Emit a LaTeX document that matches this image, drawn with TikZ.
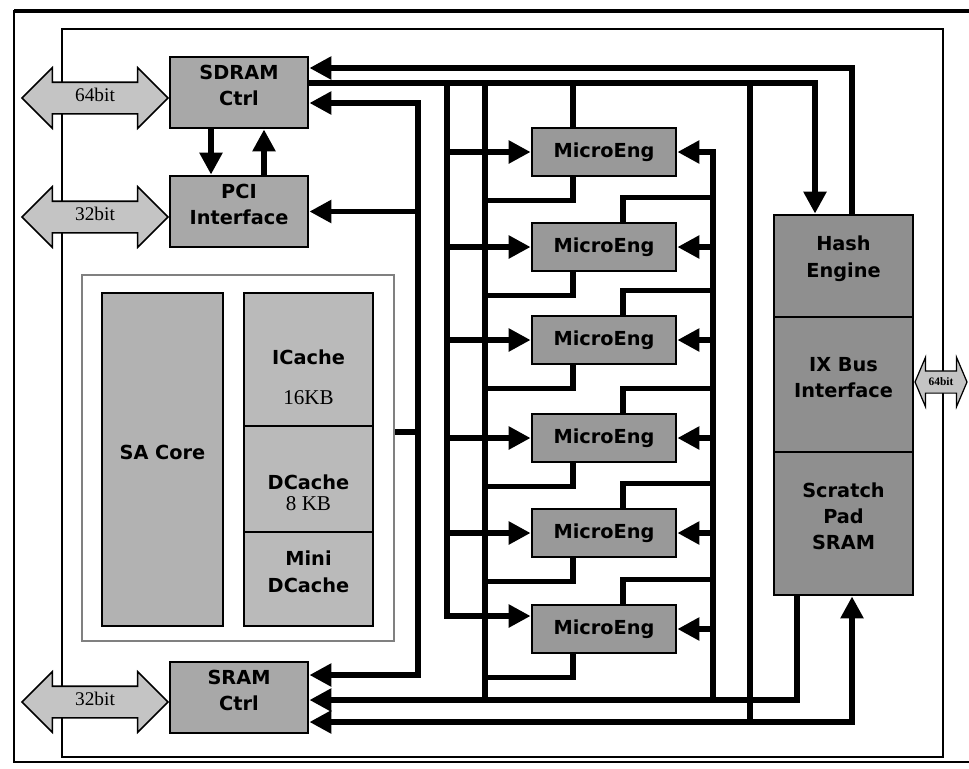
\documentclass[tikz,border=0pt]{standalone}
\usepackage{fontspec}
\newfontfamily\blkfont{DejaVu Sans}
\newfontfamily\busfont{Liberation Serif}
\usetikzlibrary{arrows.meta,shapes.arrows,fit}

\definecolor{ctrlgray}{gray}{0.66}
\definecolor{megray}{gray}{0.6}
\definecolor{hashgray}{gray}{0.56}
\definecolor{coregray}{gray}{0.7}
\definecolor{cachegray}{gray}{0.73}
\definecolor{busgray}{gray}{0.77}

\newcommand{\kbfont}{\busfont\mdseries\fontsize{12}{14}\selectfont}

\begin{document}
\begin{tikzpicture}[x=0.02cm, y=-0.02cm,
    >={Triangle[length=4.4mm,width=4.4mm]},
    wire/.style={line width=3.2pt},
    blk/.style={draw, line width=1.6pt, inner sep=0pt, align=center,
        font=\blkfont\bfseries\fontsize{11}{15}\selectfont},
    lbl/.style={align=center, font=\blkfont\bfseries\fontsize{11}{15}\selectfont},
    bigbus/.style={double arrow, draw, line width=0.9pt, fill=busgray,
        double arrow head extend=0.29cm, double arrow tip angle=90,
        minimum height=2.92cm, inner xsep=0pt, inner ysep=0.17cm,
        text height=0.2cm, text depth=0.06cm,
        font=\busfont\fontsize{11}{11}\selectfont},
    smallbus/.style={double arrow, draw, line width=0.7pt, fill=busgray,
        double arrow head extend=0.27cm, double arrow tip angle=134,
        minimum height=1.04cm, inner xsep=0pt, inner ysep=0.09cm,
        text height=0.18cm, text depth=0.06cm,
        font=\busfont\bfseries\fontsize{6.5}{7}\selectfont}]

    \fill[white] (0,0) rectangle (969,768);
    \useasboundingbox (0,0) rectangle (969,768);

    % frames
    \draw[line width=2.4pt] (969,11) -- (14,11);
    \draw[line width=1.4pt] (14,10) -- (14,762) -- (969,762);
    \draw[line width=0.8pt] (62,29) rectangle (943,757);

    % controllers
    \node[blk, fill=ctrlgray, fit={(170,57) (308,128)}] (sdram) {SDRAM\\Ctrl};
    \node[blk, fill=ctrlgray, fit={(170,176) (308,247)}] (pci) {PCI\\Interface};
    \node[blk, fill=ctrlgray, fit={(170,662) (308,733)}] (sram) {SRAM\\Ctrl};

    % StrongARM core
    \node[draw=gray, line width=1pt, inner sep=0pt, fit={(82,275) (394,641)}] (safrm) {};
    \node[blk, fill=coregray, fit={(102,293) (223,626)}] (core) {SA Core};
    \node[blk, fill=cachegray, fit={(244,293) (373,426)},
        label={[lbl, yshift=-0.36cm]center:{ICache\\[8pt]{\kbfont 16KB}}}] (icache) {};
    \node[blk, fill=cachegray, fit={(244,426) (373,532)},
        label={[lbl, yshift=-0.27cm]center:{DCache\\[-3pt]{\kbfont 8 KB}}}] (dcache) {};
    \node[blk, fill=cachegray, fit={(244,532) (373,626)}] (mdcache) {Mini\\DCache};

    % microengines
    \foreach \i/\y in {1/152,2/247,3/340,4/438,5/533,6/629}
        \node[blk, fill=megray, minimum width=2.88cm, minimum height=0.96cm] (me\i) at (604,\y) {MicroEng};

    % hash unit
    \node[blk, fill=hashgray, fit={(774,215) (913,317)}] (hash) {Hash\\Engine};
    \node[blk, fill=hashgray, fit={(774,317) (913,452)}] (ixbus) {IX Bus\\Interface};
    \node[blk, fill=hashgray, fit={(774,452) (913,595)}] (scratch) {Scratch\\Pad\\SRAM};

    % external buses
    \node[bigbus] (sdbus) at (95,98) {64bit};
    \node[bigbus] (pcibus) at (95,217) {32bit};
    \node[bigbus] (srbus) at (95,702) {32bit};
    \node[smallbus] (ixlink) at (941,382) {64bit};

    % rails
    \coordinate (xd) at (211,0);
    \coordinate (xu) at (264,0);
    \coordinate (sabus) at (418,0);
    \coordinate (mein) at (447,0);
    \coordinate (meret) at (485,0);
    \coordinate (meup) at (573,0);
    \coordinate (medn) at (623,0);
    \coordinate (meback) at (713,0);
    \coordinate (tap) at (750,0);
    \coordinate (scrout) at (797,0);
    \coordinate (hashin) at (815,0);
    \coordinate (hashout) at (852,0);
    \coordinate (ya) at (0,68);
    \coordinate (yb) at (0,83);
    \coordinate (yc) at (0,103);
    \coordinate (yk) at (0,432);
    \coordinate (yl) at (0,675);
    \coordinate (ym) at (0,700);
    \coordinate (yn) at (0,722);

    % SDRAM <-> PCI
    \draw[wire,->] (xd |- sdram.south) -- (xd |- pci.north);
    \draw[wire,->] (xu |- pci.north) -- (xu |- sdram.south);

    % core bus
    \draw[wire,<->] (sdram.east |- yc) -| (sabus |- yl) -- (sram.east |- yl);
    \draw[wire,->] (sabus |- pci.east) -- (pci.east);
    \draw[wire] (safrm.east |- yk) -- (sabus |- yk);

    % top rails
    \draw[wire,->] (hashout |- hash.north) |- (sdram.east |- ya);
    \draw[wire,->] (sdram.east |- yb) -| (hashin |- hash.north);
    \draw[wire] (meret |- yb) -- (meret |- ym);
    \draw[wire] (tap |- yb) -- (tap |- yn);
    \draw[wire] (meup |- yb) -- (meup |- me1.north);
    \draw[wire,->] (mein |- yb) |- ([yshift=0.26cm]me6.west);
    \foreach \i in {1,...,5}
        \draw[wire,->] (mein |- me\i.west) -- (me\i.west);

    % microengine links
    \foreach \i in {1,...,6}
        \draw[wire] (meup |- me\i.south) -- ++(0,23) coordinate (b\i) -- (meret |- b\i);
    \foreach \i in {2,...,6}
        \draw[wire] (medn |- me\i.north) -- ++(0,-24) coordinate (t\i) -- (meback |- t\i);
    \draw[wire,->] (meback |- ym) -- (meback |- me1.east) -- (me1.east);
    \foreach \i in {2,...,6}
        \draw[wire,->] (meback |- me\i.east) -- (me\i.east);

    % bottom rails
    \draw[wire,->] (scrout |- scratch.south) |- (sram.east |- ym);
    \draw[wire,<->] (sram.east |- yn) -| (hashout |- scratch.south);

\end{tikzpicture}
\end{document}
